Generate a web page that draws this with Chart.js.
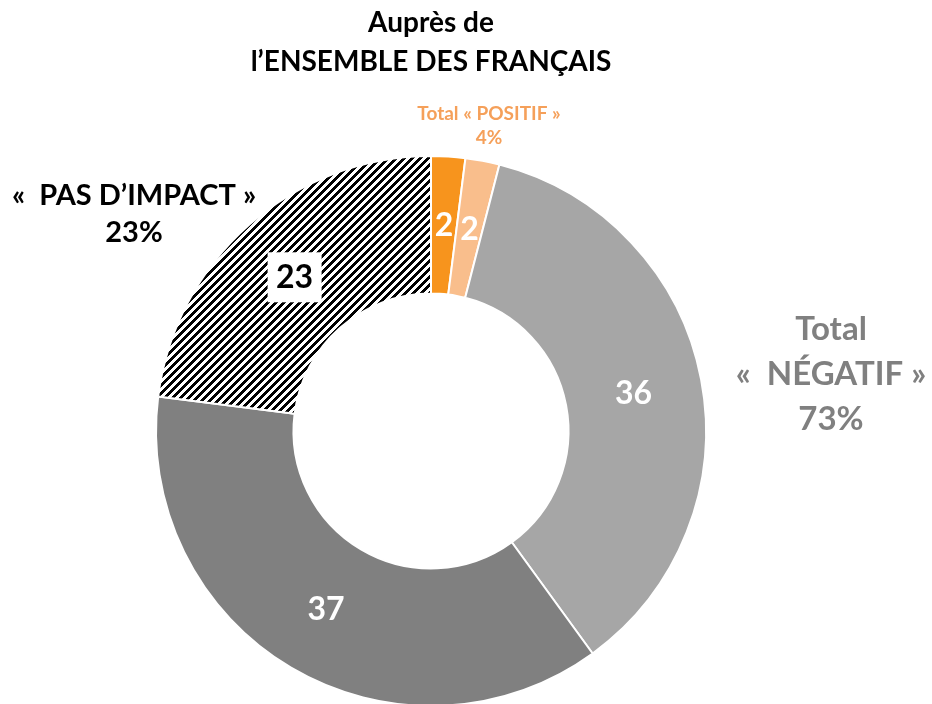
<!DOCTYPE html>
<html>
<head>
<meta charset="utf-8">
<script src="https://cdn.jsdelivr.net/npm/chart.js@4/dist/chart.umd.min.js"></script>
<style>
  html, body { margin: 0; padding: 0; background: #fff; overflow: hidden; }
  #wrap { width: 932px; height: 740px; }
</style>
</head>
<body>
<div id="wrap"><canvas id="pieChart" width="932" height="740"></canvas></div>
<script>
// segments, clockwise from 12 o'clock
const labels = ["Très positif", "Plutôt positif", "Plutôt négatif", "Très négatif", "Pas d'impact"];
const values = [2, 2, 36, 37, 23];
const colors = ["#F7941D", "#F9BE8C", "#A6A6A6", "#808080", "hatch"];
const labelColors = ["#fff", "#fff", "#fff", "#fff", "#000"];

const FONT = "Lato, 'Open Sans', sans-serif";

// diagonal stripes for "pas d'impact" (pixel pattern, no antialiasing)
function makeHatch() {
    const c = document.createElement("canvas");
    c.width = 8;
    c.height = 8;
    const g = c.getContext("2d");
    g.fillStyle = "#fff";
    g.fillRect(0, 0, 8, 8);
    g.fillStyle = "#000";
    for (let y = 0; y < 8; y++) {
        for (let x = 0; x < 8; x++) {
            if ((x + y) % 8 < 4) g.fillRect(x, y, 1, 1);
        }
    }
    return g.createPattern(c, "repeat");
}

var ctx = document.getElementById("pieChart").getContext("2d");
const hatch = makeHatch();
const bg = colors.map((c) => (c === "hatch" ? hatch : c));

const textPlugin = {
    id: "texts",
    afterDraw(chart) {
        const c = chart.ctx;
        const meta = chart.getDatasetMeta(0);
        c.save();
        c.textAlign = "center";
        c.textBaseline = "middle";

        // values inside the ring
        meta.data.forEach((arc, i) => {
            const p = arc.tooltipPosition();
            c.font = "bold 32px " + FONT;
            const txt = String(values[i]);
            if (labelColors[i] === "#000") {
                c.fillStyle = "#fff";
                c.fillRect(p.x - 27, p.y - 24, 54, 50);
            }
            c.fillStyle = labelColors[i];
            c.fillText(txt, p.x, p.y + 1);
        });

        // title
        c.fillStyle = "#000";
        c.font = "bold 28px " + FONT;
        c.fillText("Auprès de", 431, 23);
        c.fillText("l’ENSEMBLE DES FRANÇAIS", 431, 62);

        // positif
        c.fillStyle = "#F5A05A";
        c.font = "bold 19px " + FONT;
        c.fillText("Total « POSITIF »", 489, 114);
        c.fillText("4%", 489, 138);

        // pas d'impact
        c.fillStyle = "#000";
        c.font = "bold 29px " + FONT;
        c.fillText("«  PAS D’IMPACT »", 134, 196);
        c.fillText("23%", 134, 233);

        // négatif
        c.fillStyle = "#808080";
        c.font = "bold 33px " + FONT;
        c.fillText("Total", 831, 329);
        c.fillText("«  NÉGATIF »", 831, 374);
        c.fillText("73%", 831, 419);
        c.restore();
    },
};

new Chart(ctx, {
    type: "doughnut",
    data: {
        labels: labels,
        datasets: [
            {
                data: values,
                backgroundColor: bg,
                borderColor: "#fff",
                borderWidth: 2,
            },
        ],
    },
    options: {
        responsive: false,
        animation: false,
        cutout: "50%",
        layout: {
            padding: { top: 155, bottom: 33, left: 155, right: 225 },
        },
        plugins: {
            legend: { display: false },
            tooltip: { enabled: false },
        },
    },
    plugins: [textPlugin],
});
</script>
</body>
</html>
